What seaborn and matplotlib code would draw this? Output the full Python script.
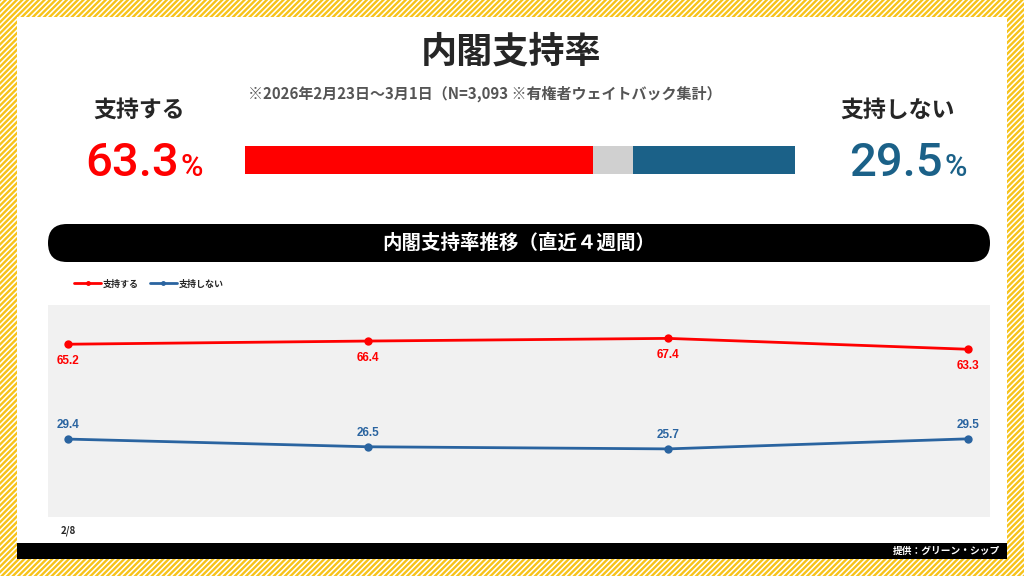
import matplotlib
matplotlib.use('Agg')
import matplotlib.pyplot as plt
from matplotlib.patches import Rectangle, FancyBboxPatch
from matplotlib.lines import Line2D
import seaborn as sns
import pandas as pd

# data
weeks = ['2/8', '2/15', '2/22', '3/1']
support = [65.2, 66.4, 67.4, 63.3]
oppose = [29.4, 26.5, 25.7, 29.5]
latest_support = 63.3
latest_oppose = 29.5
series_names = ['支持する', '支持しない']

RED = '#FF0000'
BLUE = '#2A64A0'
BIG_BLUE = '#1B6188'
GRAY = '#D0D0D0'
YELLOW = '#F7C31A'

sns.set_theme(style='white')
plt.rcParams['font.family'] = ['Noto Sans CJK JP', 'DejaVu Sans']
plt.rcParams['hatch.linewidth'] = 1.7
plt.rcParams['hatch.color'] = YELLOW

fig = plt.figure(figsize=(10.24, 5.76), dpi=100)

# background / frame in pixel coordinates
bg = fig.add_axes([0, 0, 1, 1])
bg.set_xlim(0, 1024)
bg.set_ylim(576, 0)
bg.axis('off')
bg.add_patch(Rectangle((0, 0), 1024, 576, facecolor='white', edgecolor=YELLOW,
                       hatch='//////', linewidth=0))
bg.add_patch(Rectangle((17, 17), 990, 526, facecolor='white', linewidth=0))
bg.add_patch(Rectangle((17, 543), 990, 16, facecolor='black', linewidth=0))
bg.text(1000, 551, '提供：グリーン・シップ', color='white', fontsize=7,
        fontweight='bold', ha='right', va='center')

bg.text(511, 52, '内閣支持率', fontsize=26, fontweight='bold', ha='center', va='center')
bg.text(248, 94, '※2026年2月23日～3月1日（N=3,093 ※有権者ウェイトバック集計）',
        fontsize=10.8, fontweight='bold', color='#555555', ha='left', va='center')

bg.text(139, 110, series_names[0], fontsize=16.5, fontweight='bold', ha='center', va='center')
bg.text(898, 110, series_names[1], fontsize=16.5, fontweight='bold', ha='center', va='center')

num_font = ['Roboto', 'DejaVu Sans']
bg.text(179, 163, f'{latest_support}', fontsize=34, fontweight='medium', color=RED,
        ha='right', va='center', family=num_font)
bg.text(181, 167, '%', fontsize=22, fontweight='medium', color=RED, ha='left',
        va='center', family=num_font)
bg.text(943, 163, f'{latest_oppose}', fontsize=34, fontweight='medium', color=BIG_BLUE,
        ha='right', va='center', family=num_font)
bg.text(945, 167, '%', fontsize=22, fontweight='medium', color=BIG_BLUE, ha='left',
        va='center', family=num_font)

# section banner
bg.add_patch(FancyBboxPatch((48, 224), 942, 38, boxstyle='round,pad=0,rounding_size=19',
                            facecolor='black', edgecolor='none'))
bg.text(519, 243, '内閣支持率推移（直近４週間）', color='white', fontsize=14,
        fontweight='bold', ha='center', va='center')

# stacked bar
bar_ax = fig.add_axes([245 / 1024, 1 - 174 / 576, 550 / 1024, 28 / 576])
other = 100 - latest_support - latest_oppose
parts = [latest_support, other, latest_oppose]
colors = [RED, GRAY, BIG_BLUE]
left = 0
for val, col in zip(parts, colors):
    bar_ax.barh(0, val, left=left, color=col, height=1, linewidth=0)
    left += val
bar_ax.set_xlim(0, 100)
bar_ax.set_ylim(-0.5, 0.5)
bar_ax.axis('off')

# trend chart
ax = fig.add_axes([48 / 1024, 1 - 517 / 576, 942 / 1024, 212 / 576])
ax.set_facecolor('#F1F1F1')
df = pd.DataFrame({
    'week': list(range(len(weeks))) * 2,
    'value': support + oppose,
    'series': [series_names[0]] * len(weeks) + [series_names[1]] * len(weeks),
})
sns.lineplot(data=df, x='week', y='value', hue='series',
             palette={series_names[0]: RED, series_names[1]: BLUE},
             marker='o', markersize=6, markeredgewidth=0, linewidth=2,
             legend=False, ax=ax)
lab_font = ['Liberation Sans', 'DejaVu Sans']
for i, v in enumerate(support):
    ax.annotate(f'{v}', (i, v), xytext=(0, -12), textcoords='offset points',
                ha='center', va='center', color=RED, fontsize=8.5, fontweight='bold',
                family=lab_font)
for i, v in enumerate(oppose):
    ax.annotate(f'{v}', (i, v), xytext=(0, 10), textcoords='offset points',
                ha='center', va='center', color=BLUE, fontsize=8.5, fontweight='bold',
                family=lab_font)
ax.set_xlim(-0.067, 3.073)
ax.set_ylim(0, 80)
ax.set_yticks([])
ax.set_xticks([0])
ax.set_xticklabels([weeks[0]], fontsize=7, fontweight='bold')
ax.tick_params(axis='x', length=0, pad=6)
ax.set_xlabel('')
ax.set_ylabel('')
for s in ax.spines.values():
    s.set_visible(False)

handles = [Line2D([], [], color=RED, lw=2, marker='o', markersize=2.5),
           Line2D([], [], color=BLUE, lw=2, marker='o', markersize=2.5)]
fig.legend(handles, series_names, loc='center left',
           bbox_to_anchor=(66 / 1024, 1 - 284 / 576), ncol=2, frameon=False,
           prop={'size': 6.5, 'weight': 'bold'}, handlelength=3, handletextpad=0.2,
           columnspacing=1.2)

fig.savefig('out.png', dpi=100)
